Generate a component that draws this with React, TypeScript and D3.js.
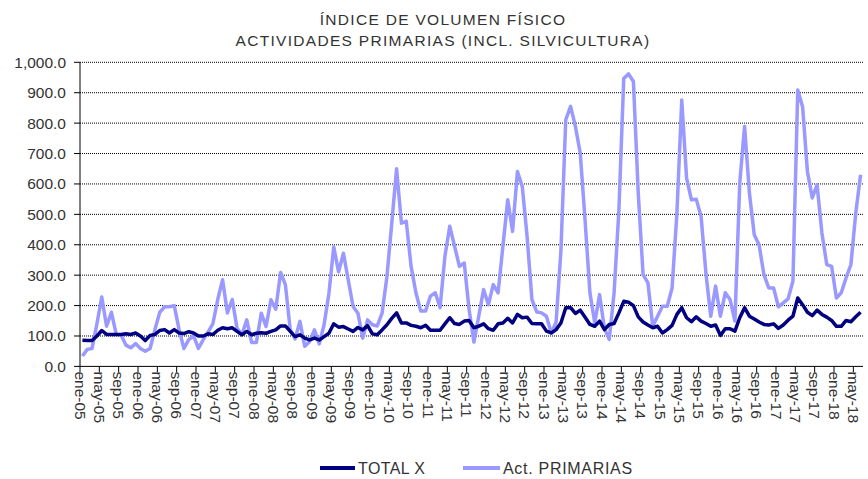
import React from 'react';
import * as d3 from 'd3';

// monthly values, ene-05 .. jun-18
const totalX = [
  86, 85, 85, 100, 118, 105, 105, 105, 105, 107, 105, 110,
  100, 85, 102, 105, 118, 121, 110, 121, 110, 108, 114, 110,
  100, 100, 107, 105, 119, 127, 124, 127, 115, 104, 115, 104,
  109, 111, 109, 115, 120, 133, 133, 115, 98, 104, 93, 87,
  93, 87, 98, 109, 140, 129, 131, 123, 115, 128, 120, 134,
  107, 104, 120, 137, 158, 176, 143, 143, 135, 132, 127, 135,
  119, 119, 119, 140, 160, 141, 138, 149, 151, 127, 132, 140,
  124, 119, 140, 143, 158, 143, 171, 160, 162, 141, 140, 140,
  116, 110, 121, 143, 193, 193, 174, 185, 162, 138, 132, 149,
  121, 138, 141, 176, 214, 211, 200, 163, 146, 136, 127, 132,
  110, 121, 135, 171, 193, 160, 147, 163, 149, 141, 132, 136,
  102, 124, 124, 116, 160, 193, 165, 156, 146, 138, 136, 140,
  125, 136, 152, 165, 225, 203, 178, 167, 185, 171, 162, 151,
  132, 132, 151, 147, 163, 178,
];

const primarias = [
  34, 56, 59, 140, 228, 132, 178, 105, 103, 70, 61, 75,
  59, 50, 59, 121, 178, 196, 196, 200, 121, 59, 88, 100,
  59, 88, 113, 141, 220, 285, 176, 220, 125, 104, 153, 79,
  79, 175, 131, 219, 188, 309, 268, 120, 90, 148, 66, 82,
  120, 74, 137, 240, 393, 311, 372, 284, 197, 175, 93, 153,
  137, 133, 175, 295, 470, 650, 471, 477, 329, 242, 182, 182,
  231, 242, 193, 362, 461, 395, 329, 340, 187, 80, 165, 253,
  203, 269, 242, 395, 548, 444, 641, 592, 428, 220, 179, 176,
  165, 110, 145, 380, 811, 855, 789, 701, 480, 242, 143, 236,
  125, 89, 242, 515, 947, 962, 937, 570, 302, 275, 132, 165,
  198, 198, 258, 504, 876, 619, 548, 550, 493, 307, 165, 264,
  165, 242, 220, 149, 603, 789, 570, 433, 400, 302, 258, 258,
  196, 209, 222, 280, 909, 854, 641, 554, 597, 439, 335, 329,
  225, 242, 291, 335, 504, 630,
];

// one label every 4 months
const tickLabels = [
  'ene-05', 'may-05', 'sep-05', 'ene-06', 'may-06', 'sep-06',
  'ene-07', 'may-07', 'sep-07', 'ene-08', 'may-08', 'sep-08',
  'ene-09', 'may-09', 'sep-09', 'ene-10', 'may-10', 'sep-10',
  'ene-11', 'may-11', 'sep-11', 'ene-12', 'may-12', 'sep-12',
  'ene-13', 'may-13', 'sep-13', 'ene-14', 'may-14', 'sep-14',
  'ene-15', 'may-15', 'sep-15', 'ene-16', 'may-16', 'sep-16',
  'ene-17', 'may-17', 'sep-17', 'ene-18', 'may-18',
];

const yTicks = [0, 100, 200, 300, 400, 500, 600, 700, 800, 900, 1000];

const W = 868;
const H = 479;
const left = 80;
const right = 863;
const top = 62.3;
const bottom = 366.4;
const font = '"Liberation Sans", Arial, sans-serif';
const textColor = '#333';

const App = () => {
  const n = totalX.length;
  const x = d3.scaleLinear().domain([0, n]).range([left, right]);
  const y = d3.scaleLinear().domain([0, 1000]).range([bottom, top]);

  const line = d3
    .line<number>()
    .x((_, i) => x(i + 0.5))
    .y(d => y(d));

  const fmt = d3.format(',.1f');

  return (
    <svg
      width={W}
      height={H}
      style={{ position: 'absolute', left: 0, top: 0, background: '#fff' }}
      fontFamily={font}
    >
      <text x={443} y={25} textAnchor="middle" fontSize={15.5} letterSpacing={1.3} fill={textColor}>
        ÍNDICE DE VOLUMEN FÍSICO
      </text>
      <text x={443} y={46} textAnchor="middle" fontSize={15.5} letterSpacing={1.3} fill={textColor}>
        ACTIVIDADES PRIMARIAS (INCL. SILVICULTURA)
      </text>

      {/* grid + y axis */}
      {yTicks.map(t => (
        <g key={t}>
          {t > 0 && (
            <line
              x1={left}
              x2={right}
              y1={y(t)}
              y2={y(t)}
              stroke="#000"
              strokeWidth={1}
              strokeDasharray="1,1"
            />
          )}
          <line x1={left - 6} x2={left} y1={y(t)} y2={y(t)} stroke="#000" />
          <text
            x={left - 14}
            y={y(t)}
            dy="0.35em"
            textAnchor="end"
            fontSize={15.5}
            fill={textColor}
          >
            {fmt(t)}
          </text>
        </g>
      ))}
      <line x1={left} x2={left} y1={top} y2={bottom} stroke="#000" />
      <line x1={left} x2={right} y1={bottom} y2={bottom} stroke="#000" />

      {/* x ticks */}
      {tickLabels.map((lab, k) => {
        const xx = x(k * 4);
        return (
          <g key={lab}>
            <line x1={xx} x2={xx} y1={bottom} y2={bottom + 6} stroke="#000" />
            <text
              transform={`translate(${xx},${bottom + 5}) rotate(90)`}
              dy="0.35em"
              textAnchor="start"
              fontSize={15.5}
              fill={textColor}
            >
              {lab}
            </text>
          </g>
        );
      })}

      <path
        d={line(primarias) || ''}
        fill="none"
        stroke="#9999ff"
        strokeWidth={3.5}
        strokeLinejoin="round"
      />
      <path
        d={line(totalX) || ''}
        fill="none"
        stroke="#000080"
        strokeWidth={3.5}
        strokeLinejoin="round"
      />

      {/* legend */}
      <line x1={320} x2={355} y1={468} y2={468} stroke="#000080" strokeWidth={4} />
      <text x={358} y={474} fontSize={16} letterSpacing={0.4} fill={textColor}>
        TOTAL X
      </text>
      <line x1={463} x2={500} y1={468} y2={468} stroke="#9999ff" strokeWidth={4} />
      <text x={503} y={474} fontSize={16} letterSpacing={0.7} fill={textColor}>
        Act. PRIMARIAS
      </text>
    </svg>
  );
};

export default App;
